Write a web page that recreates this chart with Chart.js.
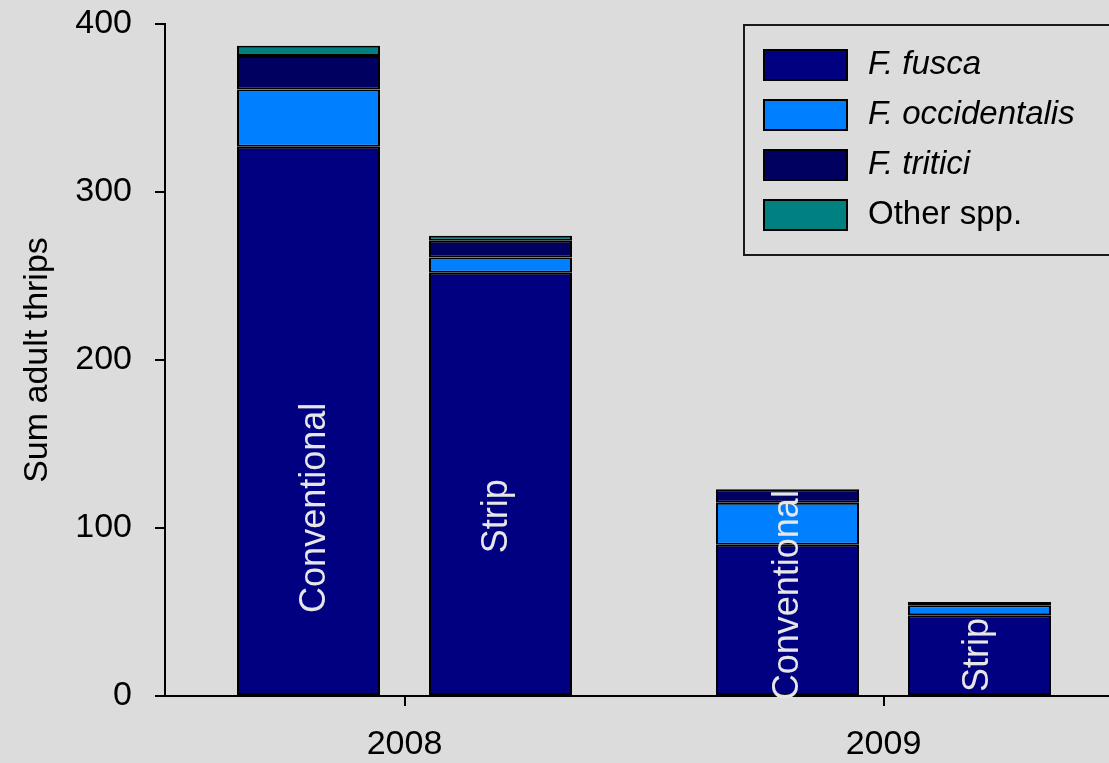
<!DOCTYPE html>
<html>
<head>
<meta charset="utf-8">
<script src="https://cdn.jsdelivr.net/npm/chart.js@4/dist/chart.umd.min.js"></script>
<style>
  html, body { margin: 0; padding: 0; background: #DCDCDC; overflow: hidden; width: 1109px; height: 763px; }
  #wrap { position: absolute; left: 0; top: 0; width: 1200px; height: 763px; }
  canvas { display: block; }
</style>
</head>
<body>
<div id="wrap"><canvas id="c" width="1200" height="763"></canvas></div>
<script>
// ---- data ----
const categories = ['2008', '2009'];
const treatments = ['Conventional', 'Strip'];
const speciesNames = ['F. fusca', 'F. occidentalis', 'F. tritici', 'Other spp.'];
// values per year [2008, 2009]
const fuscaConventional = [327, 90];
const fuscaStrip = [252, 48];
const occidentalisConventional = [34, 25];
const occidentalisStrip = [9, 6];
const triticiConventional = [20, 8];
const triticiStrip = [10, 2];
const otherConventional = [6, 0];
const otherStrip = [3, 0];
const yTickValues = [0, 100, 200, 300, 400];
const yTitle = 'Sum adult thrips';

// ---- styles ----
const FONT = "'Liberation Sans', Arial, sans-serif";
const speciesColors = ['#000080', '#0080FF', '#000060', '#008080'];
const speciesItalic = [true, true, true, false];

const seriesByTreatment = {
  'Conventional': [fuscaConventional, occidentalisConventional, triticiConventional, otherConventional],
  'Strip': [fuscaStrip, occidentalisStrip, triticiStrip, otherStrip]
};

const datasets = [];
treatments.forEach(t => {
  seriesByTreatment[t].forEach((vals, s) => {
    datasets.push({
      label: speciesNames[s],
      data: vals,
      stack: t,
      backgroundColor: speciesColors[s],
      borderColor: '#000000',
      borderWidth: 2,
      borderSkipped: false,
      categoryPercentage: 0.8017,
      barPercentage: 0.7448,
      treatment: t
    });
  });
});

const bgPlugin = {
  id: 'bg',
  beforeDraw(chart) {
    const ctx = chart.ctx;
    ctx.save();
    ctx.fillStyle = '#DCDCDC';
    ctx.fillRect(0, 0, chart.width, chart.height);
    ctx.restore();
  }
};

// in-bar treatment labels: horizontal offset (px) and vertical centre (data units)
const barLabelPlacement = {
  'Conventional': [{ dx: 7, y: 112 }, { dx: 0.5, y: 60 }],
  'Strip': [{ dx: -3, y: 107 }, { dx: -1.5, y: 24.4 }]
};

const barLabelPlugin = {
  id: 'barLabels',
  afterDraw(chart) {
    const ctx = chart.ctx;
    const yScale = chart.scales.y;
    chart.data.datasets.forEach((ds, di) => {
      if (ds.label !== speciesNames[0]) return;
      const meta = chart.getDatasetMeta(di);
      meta.data.forEach((el, i) => {
        const p = barLabelPlacement[ds.treatment][i];
        const x = el.x + p.dx;
        const y = yScale.getPixelForValue(p.y);
        ctx.save();
        ctx.translate(x, y);
        ctx.rotate(-Math.PI / 2);
        ctx.font = '36px ' + FONT;
        ctx.fillStyle = '#E6E6E6';
        ctx.textAlign = 'center';
        ctx.textBaseline = 'middle';
        ctx.fillText(ds.treatment, 0, 0);
        ctx.restore();
      });
    });
  }
};

const legendPlugin = {
  id: 'boxLegend',
  afterDraw(chart) {
    const ctx = chart.ctx;
    const bx = 744, by = 25, bw = 500, bh = 230;
    ctx.save();
    ctx.lineWidth = 2;
    ctx.strokeStyle = '#1a1a1a';
    ctx.strokeRect(bx, by, bw, bh);
    speciesNames.forEach((name, i) => {
      const sy = 49 + i * 50;
      ctx.fillStyle = speciesColors[i];
      ctx.fillRect(763, sy, 85, 32);
      ctx.lineWidth = 2;
      ctx.strokeStyle = '#000000';
      ctx.strokeRect(764, sy + 1, 83, 30);
      ctx.fillStyle = '#000000';
      ctx.font = (speciesItalic[i] ? 'italic ' : '') + '33px ' + FONT;
      ctx.textAlign = 'left';
      ctx.textBaseline = 'middle';
      ctx.fillText(name, 868, sy + 16);
    });
    ctx.restore();
  }
};

new Chart(document.getElementById('c'), {
  type: 'bar',
  data: { labels: categories, datasets },
  options: {
    responsive: false,
    animation: false,
    devicePixelRatio: 1,
    layout: { padding: { top: 24, right: 77, left: 0, bottom: 0 } },
    plugins: { legend: { display: false }, tooltip: { enabled: false } },
    scales: {
      x: {
        type: 'category',
        offset: true,
        stacked: true,
        grid: { display: true, drawOnChartArea: false, drawTicks: true, tickLength: 10, offset: false, color: '#000', lineWidth: 2 },
        border: { display: true, color: '#000', width: 2 },
        ticks: { color: '#000', font: { family: FONT, size: 34 }, padding: 18, maxRotation: 0 },
        afterFit(scale) { scale.height = 67; scale.paddingLeft = 0; scale.paddingRight = 0; }
      },
      y: {
        stacked: true,
        min: 0,
        max: 400,
        afterBuildTicks(scale) { scale.ticks = yTickValues.map(v => ({ value: v })); },
        grid: { display: true, drawOnChartArea: false, drawTicks: true, tickLength: 10, color: '#000', lineWidth: 2 },
        border: { display: true, color: '#000', width: 2 },
        ticks: { color: '#000', font: { family: FONT, size: 34 }, padding: 23 },
        title: { display: true, text: yTitle, color: '#000', font: { family: FONT, size: 34 }, padding: { top: 17, bottom: 0 } },
        afterFit(scale) { scale.width = 165; scale.paddingTop = 0; scale.paddingBottom = 0; }
      }
    }
  },
  plugins: [bgPlugin, barLabelPlugin, legendPlugin]
});
</script>
</body>
</html>
